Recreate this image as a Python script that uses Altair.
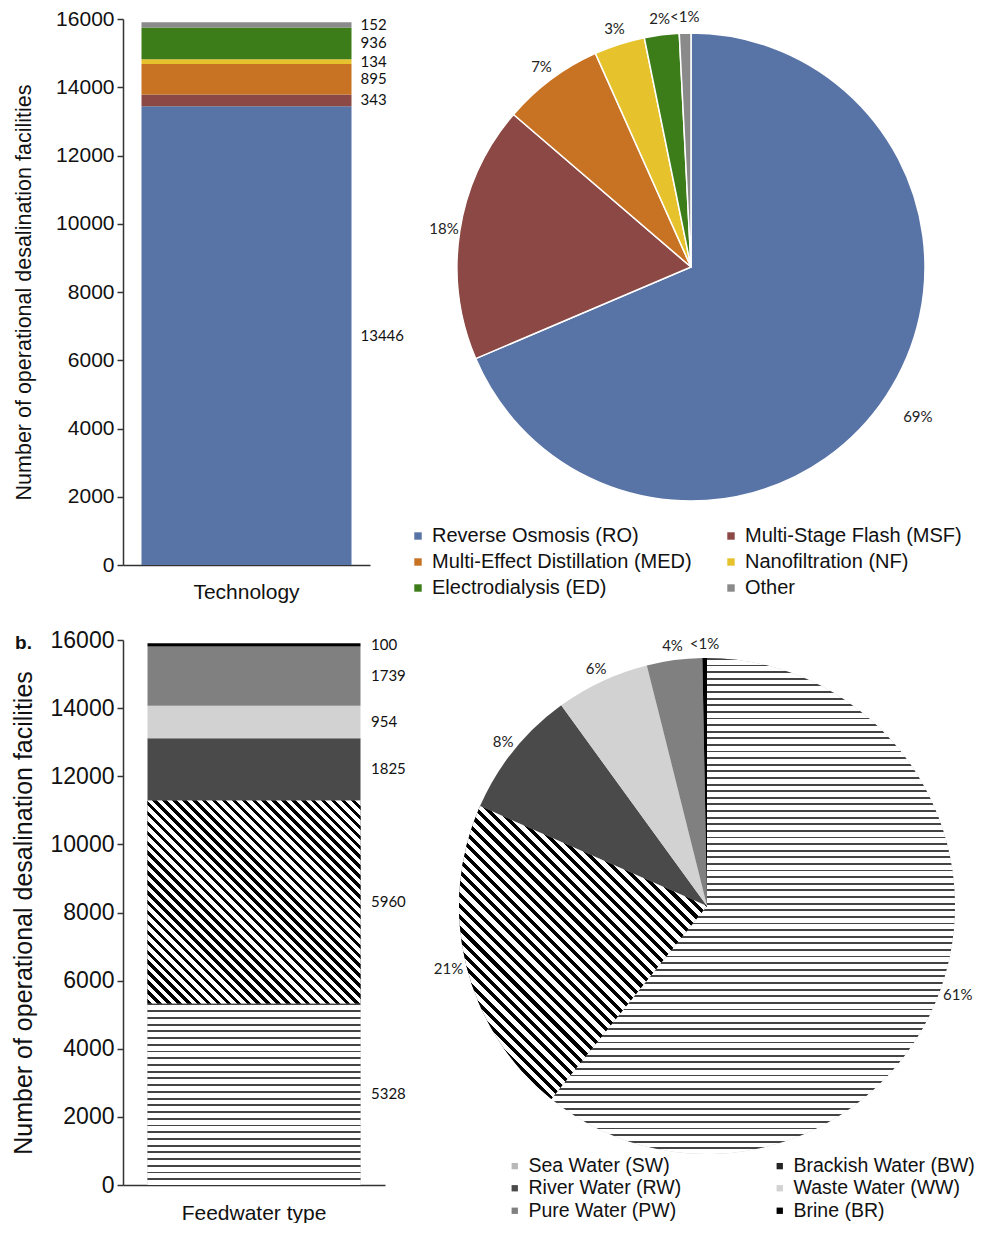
import math
import altair as alt
import pandas as pd

# ---------------- values ----------------
tech_names = ["Reverse Osmosis (RO)", "Multi-Stage Flash (MSF)",
              "Multi-Effect Distillation (MED)", "Nanofiltration (NF)",
              "Electrodialysis (ED)", "Other"]
tech_counts = [13446, 343, 895, 134, 936, 152]
tech_share = [68.6, 17.7, 7.0, 3.5, 2.4, 0.8]
tech_pct = ["69%", "18%", "7%", "3%", "2%", "<1%"]
tech_colors = ["#5873a5", "#8c4844", "#c87323", "#e6c32d", "#3c7d19", "#8a8a8a"]

feed_names = ["Sea Water (SW)", "Brackish Water (BW)", "River Water (RW)",
              "Waste Water (WW)", "Pure Water (PW)", "Brine (BR)"]
feed_counts = [5328, 5960, 1825, 954, 1739, 100]
feed_share = [60.8, 20.8, 8.4, 6.1, 3.6, 0.3]
feed_pct = ["61%", "21%", "8%", "6%", "4%", "<1%"]
feed_fills = ["#b8b8b8", "#262626", "#4a4a4a", "#d2d2d2", "#808080", "#000000"]

y_ticks = [0, 2000, 4000, 6000, 8000, 10000, 12000, 14000, 16000]
Y_MAX = 16000
Y_TITLE = "Number of operational desalination facilities"
SANS = "Liberation Sans, Arial, sans-serif"
LBL = "Lato, Open Sans, sans-serif"


def build(names, counts, share, pct, cat):
    rows, c, s = [], 0, 0.0
    for i, (n, v, sh, p) in enumerate(zip(names, counts, share, pct)):
        rows.append({"idx": i, "lab": n, "count": v, "y0": c, "y1": c + v,
                     "ymid": c + v / 2, "t0": s, "t1": s + sh, "tmid": s + sh / 2,
                     "pct": p, "cat": cat})
        c += v
        s += sh
    return pd.DataFrame(rows)


tech_df = build(tech_names, tech_counts, tech_share, tech_pct, "Technology")
feed_df = build(feed_names, feed_counts, feed_share, feed_pct, "Feedwater type")


# ---------------- stripe "patterns" made from hard-stop gradients ----------------
def _stops(n, frac, dark, light):
    st = []
    for k in range(n):
        a, b, c = k / n, (k + frac) / n, (k + 1) / n
        st += [{"offset": round(a, 5), "color": dark},
               {"offset": round(b, 5), "color": dark},
               {"offset": round(b, 5), "color": light},
               {"offset": round(min(c, 1), 5), "color": light}]
    return st


def hstripes(h, period, frac, dark, light="#ffffff"):
    n = max(1, round(h / period))
    return {"gradient": "linear", "x1": 0, "y1": 0, "x2": 0, "y2": 1,
            "stops": _stops(n, frac, dark, light)}


def dstripes(w, h, period, frac, dark, light="#ffffff"):
    r = h / w
    a = (1 + r) / (1 + r * r)
    n = max(1, round((w + h) / (math.sqrt(2) * period)))
    return {"gradient": "linear", "x1": 0, "y1": 1, "x2": round(a, 5),
            "y2": round(1 - a * r, 5), "stops": _stops(n, frac, dark, light)}


def arc_box(t0, t1, total, rad):
    a0, a1 = t0 / total * 2 * math.pi, t1 / total * 2 * math.pi
    pts = [(0.0, 0.0)]
    for a in (a0, a1):
        pts.append((rad * math.sin(a), -rad * math.cos(a)))
    for k in range(5):
        a = k * math.pi / 2
        if a0 < a < a1:
            pts.append((rad * math.sin(a), -rad * math.cos(a)))
    xs = [p[0] for p in pts]
    ys = [p[1] for p in pts]
    return max(xs) - min(xs), max(ys) - min(ys)


# ---------------- builders ----------------
def bar_chart(df, names, fills, width, height, size, lab_font, title_font,
              title_pad, lab_dx, x_pad, overlays, title=None):
    base = alt.Chart(df)
    x = alt.X("cat:N", axis=alt.Axis(title=None, labelAngle=0, ticks=False,
                                     grid=False, labelFontSize=21, labelFont=SANS,
                                     labelColor="#111", labelPadding=x_pad,
                                     domainColor="#333", domainWidth=1.5))
    yscale = alt.Scale(domain=[0, Y_MAX], nice=False)
    yaxis = alt.Axis(values=y_ticks, format="d", title=Y_TITLE, grid=False,
                     labelFontSize=lab_font, labelFont=SANS, labelColor="#111",
                     titleFontSize=title_font, titleFont=SANS,
                     titleFontWeight="normal", titleColor="#111",
                     titlePadding=title_pad, tickSize=6, tickColor="#333",
                     tickWidth=1.5, domainColor="#333", domainWidth=1.5,
                     labelPadding=3)
    y = alt.Y("y0:Q", scale=yscale, axis=yaxis)
    layers = [base.mark_bar(size=size).encode(
        x=x, y=y, y2="y1:Q",
        color=alt.Color("lab:N", scale=alt.Scale(domain=names, range=fills),
                        legend=None))]
    for name, grad in overlays:
        layers.append(base.transform_filter(alt.datum.lab == name)
                      .mark_bar(size=size, fill=grad)
                      .encode(x=x, y=y, y2="y1:Q"))
    layers.append(base.mark_text(align="left", dx=lab_dx, font=LBL, fontSize=15,
                                 color="#111")
                  .encode(x=x, y=alt.Y("ymid:Q", scale=yscale, axis=yaxis),
                          text=alt.Text("count:Q", format="d")))
    ch = alt.layer(*layers).properties(width=width, height=height)
    if title is not None:
        ch = ch.properties(title=title)
    return ch


def pie_chart(df, names, fills, rad, lab_r, lab_r_low, width, height, legend,
              stroke, stroke_w, overlays):
    total = round(float(df["t1"].max()), 6)
    tscale = alt.Scale(domain=[0, total], range=[0, 2 * math.pi])
    base = alt.Chart(df)
    th = alt.Theta("t0:Q", scale=tscale, stack=None)
    layers = [base.mark_arc(radius=rad, stroke=stroke, strokeWidth=stroke_w).encode(
        theta=th, theta2="t1:Q",
        color=alt.Color("lab:N", scale=alt.Scale(domain=names, range=fills),
                        legend=legend))]
    for name, grad in overlays:
        layers.append(base.transform_filter(alt.datum.lab == name)
                      .mark_arc(radius=rad, fill=grad, stroke=stroke,
                                strokeWidth=stroke_w)
                      .encode(theta=th, theta2="t1:Q"))
    lower = (alt.datum.tmid > total * 0.25) & (alt.datum.tmid < total * 0.75)
    tenc = dict(theta=alt.Theta("tmid:Q", scale=tscale, stack=None), text="pct:N")
    layers.append(base.transform_filter(~lower)
                  .mark_text(radius=lab_r, font=LBL, fontSize=15, color="#222")
                  .encode(**tenc))
    layers.append(base.transform_filter(lower)
                  .mark_text(radius=lab_r_low, font=LBL, fontSize=15, color="#222")
                  .encode(**tenc))
    return alt.layer(*layers).properties(width=width, height=height)


# ---------------- top row ----------------
top_bar = bar_chart(tech_df, tech_names, tech_colors, 247, 546, 210, 21, 21.5, 20,
                    114, 16, [])

top_legend = alt.Legend(orient="none", legendX=-2, legendY=507, columns=2,
                        direction="horizontal",
                        title=None, symbolType="square", symbolSize=55,
                        symbolStrokeWidth=0, labelFont=SANS, labelFontSize=20,
                        labelColor="#111", labelOffset=4, labelLimit=500,
                        rowPadding=6, columnPadding=29)
top_pie = pie_chart(tech_df, tech_names, tech_colors, 234, 250, 272, 562, 496,
                    top_legend, "white", 1.5, [])

top_row = alt.hconcat(top_bar, top_pie, spacing=4).resolve_scale(
    color="independent", theta="independent")

# ---------------- bottom row ----------------
PX = 545 / Y_MAX
BW_H = feed_counts[1] * PX
SW_H = feed_counts[0] * PX
bar_over = [
    (feed_names[0], hstripes(SW_H, 6.6, 0.28, "#444444")),
    (feed_names[1], dstripes(213, BW_H, 7.0, 0.45, "#000000")),
]
R2 = 248
tot2 = sum(feed_share)
sw_w, sw_h = arc_box(0, feed_share[0], tot2, R2)
bw_w, bw_h = arc_box(feed_share[0], feed_share[0] + feed_share[1], tot2, R2)
pie_over = [
    (feed_names[0], hstripes(sw_h, 6.6, 0.28, "#444444")),
    (feed_names[1], dstripes(bw_w, bw_h, 8.0, 0.45, "#000000")),
]

b_title = alt.TitleParams("b.", anchor="start", frame="bounds", orient="top",
                          fontSize=19, fontWeight="bold", font=SANS,
                          color="#111", offset=-24, dx=4)
bottom_bar = bar_chart(feed_df, feed_names, feed_fills, 262, 545, 213, 23, 25, 14,
                       117, 17, bar_over, title=b_title)

bot_legend = alt.Legend(orient="none", legendX=66, legendY=516, columns=2,
                        direction="horizontal",
                        title=None, symbolType="square", symbolSize=40,
                        symbolStrokeWidth=0, labelFont=SANS, labelFontSize=19.5,
                        labelColor="#111", labelOffset=4, labelLimit=500,
                        rowPadding=1.5, columnPadding=88)
bottom_pie = pie_chart(feed_df, feed_names, feed_fills, R2, 262, 266, 536, 532,
                       bot_legend, None, 0, pie_over)

bottom_row = alt.hconcat(bottom_bar, bottom_pie, spacing=27).resolve_scale(
    color="independent", theta="independent")

chart = (alt.vconcat(top_row, bottom_row, spacing=27)
         .resolve_scale(color="independent", theta="independent")
         .properties(padding={"left": 3, "top": 0, "right": 0, "bottom": 0},
                     background="white")
         .configure_view(stroke=None, strokeWidth=0))

chart.save("out.html", embed_options={"renderer": "svg", "actions": False})
